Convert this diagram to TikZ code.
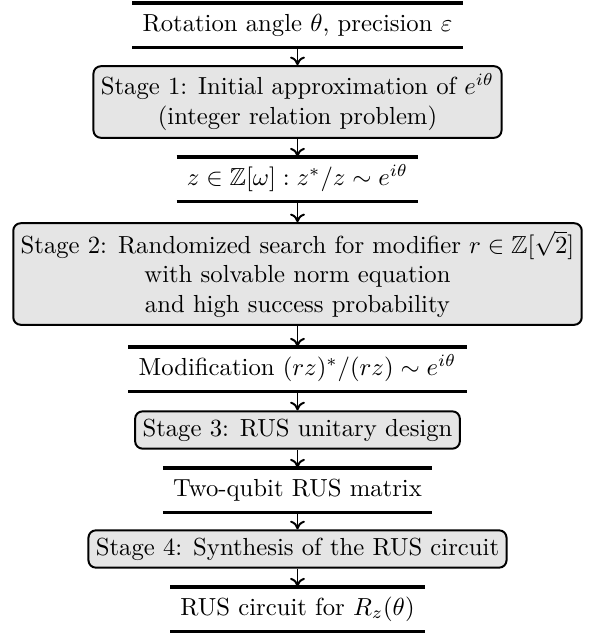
\documentclass[tikz,border=0pt]{standalone}
\usepackage{amsmath,amssymb}
\usetikzlibrary{arrows.meta}
\tikzset{
  stagebox/.style={draw, line width=0.8pt, fill=black!10, rounded corners=3pt,
    align=center, inner xsep=3pt, inner ysep=3pt},
  datanode/.style={align=center, inner xsep=4pt, inner ysep=3.9pt,
    text height=7.5pt, text depth=2.5pt},
  dataline/.style={line width=1.6pt},
  flow/.style={-{To[length=3.5pt,width=6pt]}, line width=0.8pt}
}
\begin{document}
\begin{tikzpicture}[x=0.405pt, y=-0.405pt]
\useasboundingbox (0,0) rectangle (595,633);
\node[datanode] (d1) at (297.5,25) {Rotation angle $\theta$, precision $\varepsilon$};
\node[stagebox] (s1) at (297.5,102) {Stage 1: Initial approximation of $e^{i\theta}$\\(integer relation problem)};
\node[datanode] (d2) at (297.5,179) {$z \in \mathbb{Z}[\omega] : z^*/z \sim e^{i\theta}$};
\node[stagebox] (s2) at (297.5,274) {Stage 2: Randomized search for modifier $r \in \mathbb{Z}[\sqrt{2}]$\\with solvable norm equation\\and high success probability};
\node[datanode] (d3) at (297.5,369) {Modification $(rz)^*/(rz) \sim e^{i\theta}$};
\node[stagebox] (s3) at (297.5,430) {Stage 3: RUS unitary design};
\node[datanode] (d4) at (297.5,490) {Two-qubit RUS matrix};
\node[stagebox] (s4) at (297.5,549) {Stage 4: Synthesis of the RUS circuit};
\node[datanode] (d5) at (297.5,609) {RUS circuit for $R_z(\theta)$};
\foreach \n in {d1,d2,d3,d4,d5}{
  \draw[dataline] (\n.north west) -- (\n.north east);
  \draw[dataline] (\n.south west) -- (\n.south east);
}
\draw[flow] (d1.south) -- (s1.north);
\draw[flow] (s1.south) -- (d2.north);
\draw[flow] (d2.south) -- (s2.north);
\draw[flow] (s2.south) -- (d3.north);
\draw[flow] (d3.south) -- (s3.north);
\draw[flow] (s3.south) -- (d4.north);
\draw[flow] (d4.south) -- (s4.north);
\draw[flow] (s4.south) -- (d5.north);
\end{tikzpicture}
\end{document}
